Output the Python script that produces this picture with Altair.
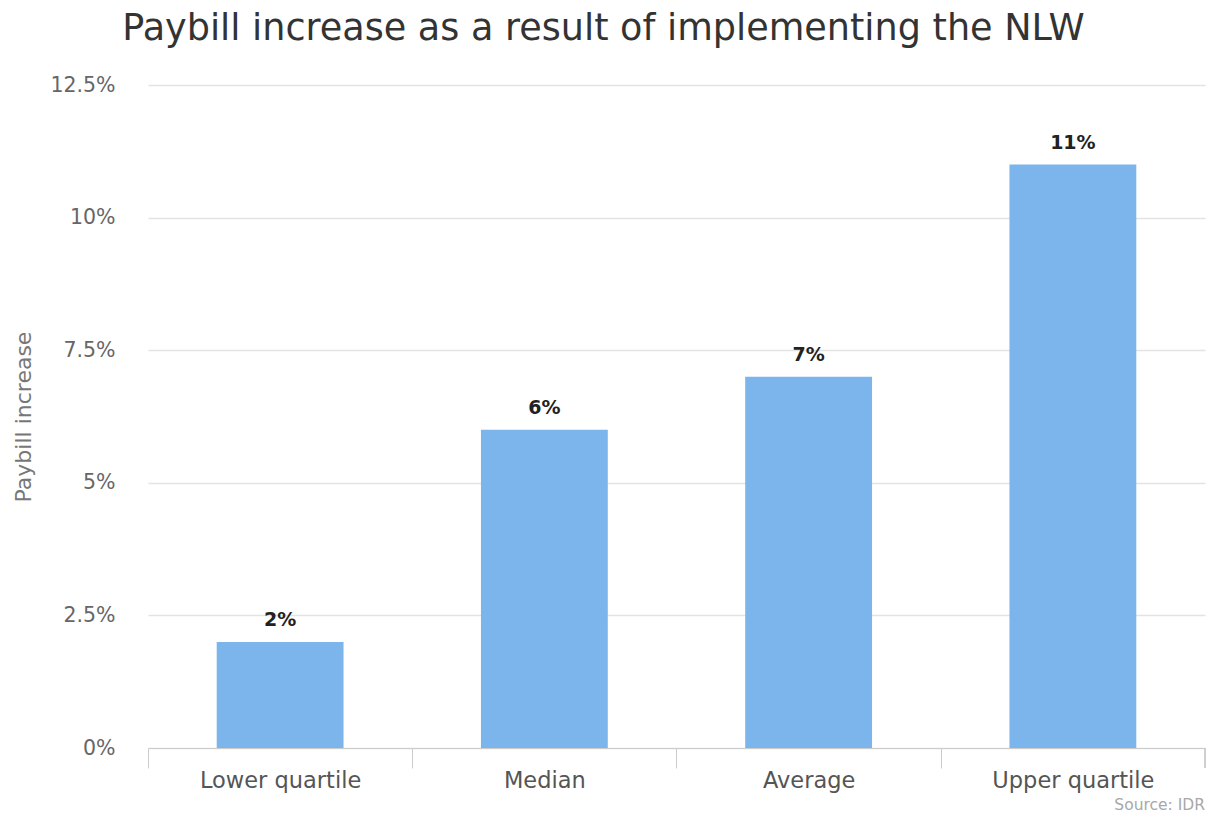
import altair as alt
import pandas as pd

categories = ["Lower quartile", "Median", "Average", "Upper quartile"]
values = [2, 6, 7, 11]
bar_labels = ["2%", "6%", "7%", "11%"]
y_ticks = [0, 2.5, 5, 7.5, 10, 12.5]

df = pd.DataFrame({"category": categories, "value": values, "label": bar_labels})

W, H = 1057, 663
step = W / len(categories)

x_enc = alt.X(
    "category:N",
    sort=categories,
    scale=alt.Scale(paddingInner=0.52, paddingOuter=0.26),
    axis=alt.Axis(
        title=None,
        labelAngle=0,
        labelFont="DejaVu Sans",
        labelFontSize=22.5,
        labelColor="#555555",
        labelPadding=1,
        domainColor="#cccccc",
        tickColor="#cccccc",
        tickSize=20,
        tickOffset=-step / 2,
        labelOffset=step / 2,
        grid=False,
    ),
)
y_enc = alt.Y(
    "value:Q",
    scale=alt.Scale(domain=[0, 12.5], nice=False),
    axis=alt.Axis(
        title="Paybill increase",
        titleFont="DejaVu Sans",
        titleFontSize=22,
        titleFontWeight="normal",
        titleColor="#777777",
        titlePadding=14,
        values=y_ticks,
        labelExpr="datum.value + '%'",
        labelFont="DejaVu Sans",
        labelFontSize=20.5,
        labelColor="#666666",
        labelPadding=33,
        domain=False,
        ticks=False,
        gridColor="#e3e3e3",
        gridWidth=1.5,
    ),
)

bars = alt.Chart(df).mark_bar(color="#7cb5ec").encode(x=x_enc, y=y_enc)
text = alt.Chart(df).mark_text(
    baseline="bottom", dy=-12, font="DejaVu Sans", fontSize=19, fontWeight="bold", color="#222222"
).encode(x=alt.X("category:N", sort=categories), y="value:Q", text="label:N")

end_tick = alt.Chart(df).mark_rule(color="#cccccc").encode(
    x=alt.value(W), y=alt.value(H), y2=alt.value(H + 20)
)
source = alt.Chart(pd.DataFrame({"t": ["Source: IDR"]})).mark_text(
    align="right", baseline="middle", font="DejaVu Sans", fontSize=15.5, color="#a8a8a8"
).encode(x=alt.value(W), y=alt.value(H + 57), text="t:N")

chart = (
    alt.layer(bars, text, end_tick, source)
    .properties(
        width=W,
        height=H,
        title=alt.TitleParams(
            "Paybill increase as a result of implementing the NLW",
            font="DejaVu Sans",
            fontSize=36.6,
            fontWeight="normal",
            color="#333333",
            anchor="middle",
            dx=-73,
            offset=27,
        ),
        autosize=alt.AutoSizeParams(type="none"),
        padding={"left": 148, "top": 85, "right": 11, "bottom": 67},
    )
    .configure(background="white")
    .configure_view(strokeWidth=0, stroke=None)
)

chart.save("out.html", embed_options={"renderer": "svg", "actions": False})
